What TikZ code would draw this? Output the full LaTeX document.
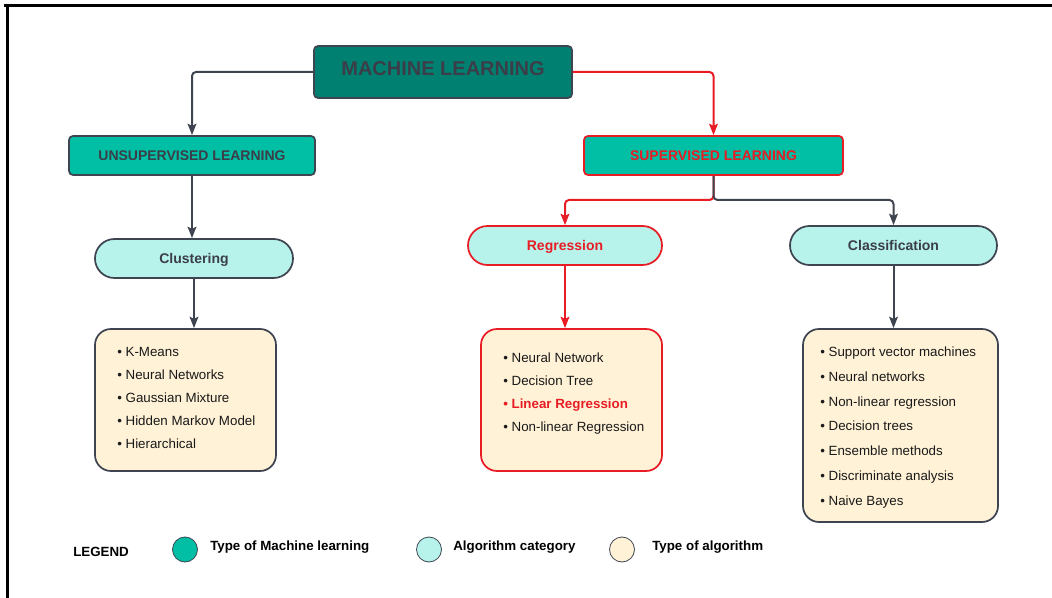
\documentclass[tikz,border=0pt]{standalone}
\usepackage{fontspec}
\setmainfont{Liberation Sans}
\usetikzlibrary{arrows.meta}
\definecolor{dteal}{RGB}{0,128,112}
\definecolor{mteal}{RGB}{0,191,165}
\definecolor{lcyan}{RGB}{183,243,235}
\definecolor{cream}{RGB}{255,242,215}
\definecolor{edge}{RGB}{62,68,80}
\definecolor{txt}{RGB}{59,62,72}
\definecolor{hred}{RGB}{232,28,36}
\definecolor{itemc}{RGB}{25,25,25}
\begin{document}
\begin{tikzpicture}[x=0.75pt,y=-0.75pt,
  frame/.style={line width=1.6pt,draw=black},
  gline/.style={draw=edge,line width=1.5pt,rounded corners=3pt,-{Stealth[length=8.5pt,width=6.5pt,inset=1.5pt]}},
  rline/.style={draw=hred,line width=1.5pt,rounded corners=3pt,-{Stealth[length=8.5pt,width=6.5pt,inset=1.5pt]}},
  mlbox/.style={draw=edge,line width=1.3pt,fill=dteal,rounded corners=3pt,text=txt,font=\bfseries\fontsize{15}{18}\selectfont,inner sep=0pt,text height=10.8pt,text depth=5pt},
  typebox/.style={draw=edge,line width=1.3pt,fill=mteal,rounded corners=3pt,text=txt,font=\bfseries\fontsize{10.5}{12}\selectfont,inner sep=0pt,minimum height=29.25pt,text height=7.6pt,text depth=0pt},
  catbox/.style={draw=edge,line width=1.3pt,fill=lcyan,rounded corners=14.6pt,text=txt,font=\bfseries\fontsize{10.5}{12}\selectfont,inner sep=0pt,minimum height=29.25pt,text height=7.6pt,text depth=0pt},
  algbox/.style={draw=edge,line width=1.3pt,fill=cream,rounded corners=12pt,inner sep=0pt},
  itm/.style={anchor=west,inner sep=0pt,text=itemc,font=\fontsize{10}{12}\selectfont,text height=7.2pt,text depth=0pt},
  legtxt/.style={anchor=west,inner sep=0pt,text=black,font=\bfseries\fontsize{10}{12}\selectfont,text height=7.2pt,text depth=0pt},
  legdot/.style={circle,draw=edge,line width=0.6pt,minimum size=18.75pt,inner sep=0pt}
]
\useasboundingbox (0,0) rectangle (1052,598);
% frame (top and left edges)
\coordinate (f0) at (4,5.5);
\coordinate (f1) at (1052,5.5);
\coordinate (f2) at (7.5,5);
\coordinate (f3) at (7.5,598);
\draw[frame] (f0) -- (f1);
\draw[frame] (f2) -- (f3);

% nodes
\node[mlbox,minimum width=193.5pt,minimum height=39pt] (ml) at (443,72) {MACHINE LEARNING};
\node[typebox,minimum width=184.5pt] (unsup) at (192,155.5) {UNSUPERVISED LEARNING};
\node[typebox,draw=hred,text=hred,minimum width=194.25pt] (sup) at (713.5,155.5) {SUPERVISED LEARNING};
\node[catbox,minimum width=148.5pt] (clus) at (194,258.5) {Clustering};
\node[catbox,draw=hred,text=hred,minimum width=145.5pt] (reg) at (565,245.5) {Regression};
\node[catbox,minimum width=155.25pt] (cls) at (893.5,245.5) {Classification};
\node[algbox,minimum width=135.75pt,minimum height=106.5pt] (cbox) at (185.5,400) {};
\node[algbox,draw=hred,minimum width=135.75pt,minimum height=106.5pt] (rbox) at (571.5,400) {};
\node[algbox,minimum width=146.25pt,minimum height=144.75pt] (kbox) at (900.5,425.5) {};

% connectors
\draw[gline] (ml.west) -| (unsup.north);
\draw[rline] (ml.east) -| (sup.north);
\draw[gline] (unsup.south) -- (unsup.south |- clus.north);
\draw[gline] (clus.south) -- (clus.south |- cbox.north);
\coordinate (br) at (713.5,200);
\draw[rline] (sup.south) -- (br) -| (reg.north);
\draw[gline] (sup.south) -- (br) -| (cls.north);
\draw[rline] (reg.south) -- (reg.south |- rbox.north);
\draw[gline] (cls.south) -- (cls.south |- kbox.north);

% clustering list
\node[itm] (c1) at (117,352) {\textbullet\ K-Means};
\node[itm] (c2) at (117,375) {\textbullet\ Neural Networks};
\node[itm] (c3) at (117,398) {\textbullet\ Gaussian Mixture};
\node[itm] (c4) at (117,421) {\textbullet\ Hidden Markov Model};
\node[itm] (c5) at (117,444) {\textbullet\ Hierarchical};

% regression list
\node[itm] (r1) at (503,358) {\textbullet\ Neural Network};
\node[itm] (r2) at (503,381) {\textbullet\ Decision Tree};
\node[itm,text=hred,font=\bfseries\fontsize{10}{12}\selectfont] (r3) at (503,404) {\textbullet\ Linear Regression};
\node[itm] (r4) at (503,427) {\textbullet\ Non-linear Regression};

% classification list
\node[itm] (k1) at (820,352) {\textbullet\ Support vector machines};
\node[itm] (k2) at (820,377) {\textbullet\ Neural networks};
\node[itm] (k3) at (820,401.5) {\textbullet\ Non-linear regression};
\node[itm] (k4) at (820,426) {\textbullet\ Decision trees};
\node[itm] (k5) at (820,451) {\textbullet\ Ensemble methods};
\node[itm] (k6) at (820,476) {\textbullet\ Discriminate analysis};
\node[itm] (k7) at (820,500.5) {\textbullet\ Naive Bayes};

% legend
\node[legtxt] (lg) at (73,552) {LEGEND};
\node[legdot,fill=mteal] (d1) at (185,549.5) {};
\node[legtxt] (t1) at (210,546) {Type of Machine learning};
\node[legdot,fill=lcyan] (d2) at (429,549.5) {};
\node[legtxt] (t2) at (453,546) {Algorithm category};
\node[legdot,fill=cream] (d3) at (622,549.5) {};
\node[legtxt] (t3) at (652,546) {Type of algorithm};
\end{tikzpicture}
\end{document}
